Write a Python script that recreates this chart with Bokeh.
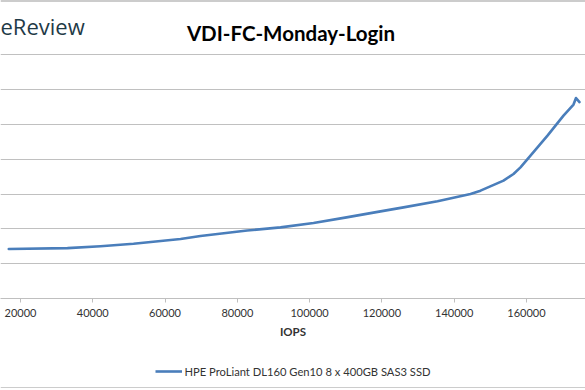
from bokeh.plotting import figure
from bokeh.layouts import column
from bokeh.models import Range1d, FixedTicker, NumeralTickFormatter, Label, Legend, LegendItem, Span
from bokeh.embed import file_html
from bokeh.resources import INLINE

# ---- data ----
series_name = "HPE ProLiant DL160 Gen10 8 x 400GB SAS3 SSD"
iops = [16760, 33000, 42140, 51270, 64280, 69810, 82730, 91950, 101080, 110210,
        119620, 125980, 135390, 144520, 147290, 153650, 156420, 158350, 161120,
        165820, 170250, 173020, 173710, 174680]
latency_ms = [0.711, 0.724, 0.751, 0.787, 0.855, 0.898, 0.977, 1.022, 1.085, 1.166,
              1.252, 1.310, 1.399, 1.502, 1.550, 1.694, 1.790, 1.885, 2.054,
              2.341, 2.629, 2.787, 2.881, 2.823]
x_ticks = [20000, 40000, 60000, 80000, 100000, 120000, 140000, 160000, 180000]
y_grid = [0.5, 1.0, 1.5, 2.0, 2.5, 3.0, 3.5]

FONT = "Lato"
LINE_COLOR = "#4a7ebb"
TEXT_COLOR = "#333333"
Y_TOP = 4.283

p = figure(width=585, height=354, output_backend="svg", toolbar_location=None,
           x_range=Range1d(14469, 176339), y_range=Range1d(0, Y_TOP),
           min_border_left=0, min_border_right=0, min_border_top=0,
           min_border_bottom=56)
p.outline_line_color = None
p.background_fill_color = "white"
p.border_fill_color = "white"

# axes
p.yaxis.visible = False
xa = p.xaxis[0]
xa.ticker = FixedTicker(ticks=x_ticks)
xa.formatter = NumeralTickFormatter(format="0")
xa.axis_line_color = "#bfbfbf"
xa.major_tick_line_color = "#bfbfbf"
xa.major_tick_in = 0
xa.major_tick_out = 4
xa.minor_tick_line_color = None
xa.major_label_text_font = FONT
xa.major_label_text_font_size = "11px"
xa.major_label_text_color = TEXT_COLOR
xa.major_label_standoff = 6
xa.axis_label = "IOPS"
xa.axis_label_text_font = FONT
xa.axis_label_text_font_style = "bold"
xa.axis_label_text_font_size = "11.5px"
xa.axis_label_text_color = TEXT_COLOR
xa.axis_label_standoff = 5

p.xgrid.visible = False
p.ygrid.ticker = FixedTicker(ticks=y_grid)
p.ygrid.grid_line_color = "#c0c0c0"
p.ygrid.grid_line_width = 1

# chart border at the very top
p.add_layout(Span(location=Y_TOP, dimension="width", line_color="#9a9a9a", line_width=2))

p.line(iops, latency_ms, line_color=LINE_COLOR, line_width=2.6,
       line_join="round", line_cap="round")

title = Label(x=290.5, y=266, x_units="screen", y_units="screen",
              text="VDI-FC-Monday-Login", text_align="center",
              text_baseline="alphabetic", text_font=FONT,
              text_font_style="bold", text_font_size="20.5px", text_color="#000000")
p.add_layout(title)

logo = Label(x=0, y=273, x_units="screen", y_units="screen",
             text="eReview", text_align="left", text_baseline="alphabetic",
             text_font="Open Sans", text_font_size="22px", text_color="#1f3a47")
p.add_layout(logo)

# legend strip
q = figure(width=585, height=34, output_backend="svg", toolbar_location=None,
           x_range=Range1d(0, 1), y_range=Range1d(0, 1),
           min_border_left=0, min_border_right=0, min_border_top=0,
           min_border_bottom=0)
q.axis.visible = False
q.grid.visible = False
q.outline_line_color = None
q.border_fill_color = "white"
q.add_layout(Span(location=0, dimension="width", line_color="#9a9a9a", line_width=2))
r = q.line(iops, latency_ms, line_color=LINE_COLOR, line_width=2.6)
legend = Legend(items=[LegendItem(label=series_name, renderers=[r])],
                location="center", orientation="horizontal",
                glyph_width=27, glyph_height=20, label_standoff=3,
                padding=0, margin=0, spacing=0,
                border_line_color=None, background_fill_alpha=0,
                label_text_font=FONT, label_text_font_size="11.2px",
                label_text_color=TEXT_COLOR)
q.add_layout(legend)

layout = column(p, q, spacing=0)
open("out.html", "w").write(file_html(layout, INLINE))
